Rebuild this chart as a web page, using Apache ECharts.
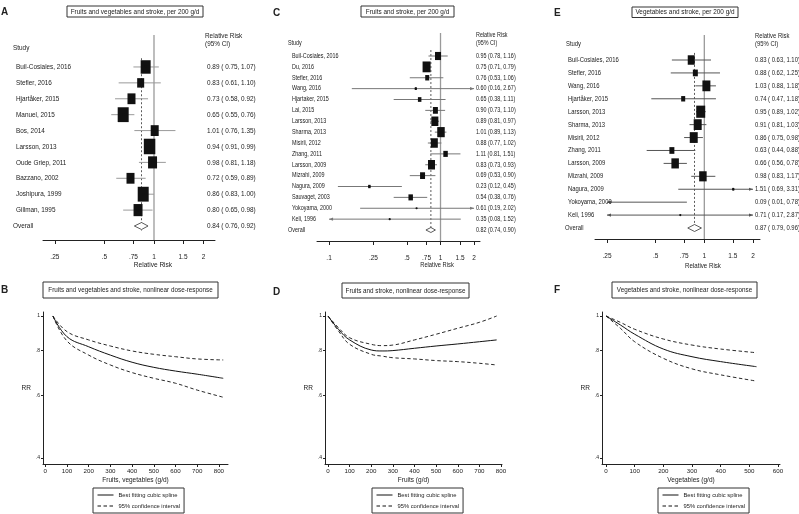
<!DOCTYPE html>
<html><head><meta charset="utf-8">
<script src="https://cdn.jsdelivr.net/npm/echarts@6/dist/echarts.min.js"></script>
<style>html,body{margin:0;padding:0;background:#fff}#c{width:799px;height:514px}</style>
</head><body><div id="c"></div>
<script>
// ---------- Panel A: fruits and vegetables, per 200 g/d ----------
const studiesA = ['Buil-Cosiales, 2016','Stefler, 2016','Hjartåker, 2015','Manuel, 2015','Bos, 2014','Larsson, 2013','Oude Griep, 2011','Bazzano, 2002','Joshipura, 1999','Gillman, 1995'];
const rrA = [0.89,0.83,0.73,0.65,1.01,0.94,0.98,0.72,0.86,0.80];
const loA = [0.75,0.61,0.58,0.55,0.76,0.91,0.81,0.59,0.83,0.65];
const hiA = [1.07,1.10,0.92,0.76,1.35,0.99,1.18,0.89,1.00,0.98];
const weightA = [11.4,5.6,7.3,13.8,7.3,15.1,9.2,7.3,13.8,9.2];
const overallA = [0.84,0.76,0.92];
const ticksA = [0.25,0.5,0.75,1,1.5,2];
const tickLabelsA = ['.25','.5','.75','1','1.5','2'];

// ---------- Panel C: fruits, per 200 g/d ----------
const studiesC = ['Buil-Cosiales, 2016','Du, 2016','Stefler, 2016','Wang, 2016','Hjartaker, 2015','Lai, 2015','Larsson, 2013','Sharma, 2013','Misirli, 2012','Zhang, 2011','Larsson, 2009','Mizrahi, 2009','Nagura, 2009','Sauvaget, 2003','Yokoyama, 2000','Keli, 1996'];
const rrC = [0.95,0.75,0.76,0.60,0.65,0.90,0.89,1.01,0.88,1.11,0.83,0.69,0.23,0.54,0.61,0.35];
const loC = [0.78,0.71,0.53,0.16,0.38,0.73,0.81,0.89,0.77,0.81,0.73,0.53,0.12,0.38,0.19,0.08];
const hiC = [1.16,0.79,1.06,2.67,1.11,1.10,0.97,1.13,1.02,1.51,0.93,0.90,0.45,0.76,2.02,1.52];
const weightC = [8.3,14.7,3.7,0.9,2.8,5.7,11.3,12.9,11.3,4.6,11.3,5.7,1.4,4.6,0.5,0.5];
const overallC = [0.82,0.74,0.90];
const ticksC = [0.1,0.25,0.5,0.75,1,1.5,2];
const tickLabelsC = ['.1','.25','.5','.75','1','1.5','2'];

// ---------- Panel E: vegetables, per 200 g/d ----------
const studiesE = ['Buil-Cosiales, 2016','Stefler, 2016','Wang, 2016','Hjartåker, 2015','Larsson, 2013','Sharma, 2013','Misirli, 2012','Zhang, 2011','Larsson, 2009','Mizrahi, 2009','Nagura, 2009','Yokoyama, 2000','Keli, 1996'];
const rrE = [0.83,0.88,1.03,0.74,0.95,0.91,0.86,0.63,0.66,0.98,1.51,0.09,0.71];
const loE = [0.63,0.62,0.88,0.47,0.89,0.81,0.75,0.44,0.56,0.83,0.69,0.01,0.17];
const hiE = [1.10,1.25,1.18,1.18,1.02,1.03,0.98,0.88,0.78,1.17,3.31,0.78,2.87];
const weightE = [9.7,4.9,12.6,3.2,16,12.6,12.6,4.9,11.1,11.1,0.8,0,0.4];
const overallE = [0.87,0.79,0.96];
const ticksE = [0.25,0.5,0.75,1,1.5,2];
const tickLabelsE = ['.25','.5','.75','1','1.5','2'];

// ---------- Dose-response panels ----------
const doseB = [35,100,200,300,400,500,600,700,820];
const splineB = [1,0.875,0.82,0.777,0.742,0.718,0.701,0.687,0.669];
const upperB = [1,0.904,0.857,0.824,0.798,0.781,0.769,0.758,0.753];
const lowerB = [1,0.851,0.777,0.729,0.694,0.669,0.648,0.62,0.592];

const doseD = [0,50,100,200,250,300,400,500,600,700,780];
const splineD = [1,0.915,0.857,0.803,0.798,0.8,0.812,0.824,0.835,0.847,0.857];
const upperD = [1,0.925,0.869,0.833,0.826,0.829,0.857,0.889,0.924,0.96,1.0];
const lowerD = [1,0.905,0.833,0.781,0.772,0.764,0.758,0.75,0.745,0.737,0.729];

const doseF = [0,50,100,200,300,400,525];
const splineF = [1,0.944,0.889,0.808,0.769,0.745,0.721];
const upperF = [1,0.96,0.918,0.862,0.829,0.808,0.789];
const lowerF = [1,0.924,0.847,0.761,0.711,0.684,0.657];

const rrTicks = [0.4,0.6,0.8,1];
const rrTickLabels = ['.4','.6','.8','1'];
const doseTicksB = [0,100,200,300,400,500,600,700,800];
const doseTicksD = [0,100,200,300,400,500,600,700,800];
const doseTicksF = [0,100,200,300,400,500,600];

// ---------- helpers ----------
const FF = "'Liberation Sans',Arial,sans-serif";
const SX = 0.82; // narrow face emulation
const L = Math.log;
function nearestLabel(v, ticks, labels){
  let bi = 0, bd = 1e9;
  ticks.forEach((t,i)=>{ const d = Math.abs(L(t)-v); if (d < bd){ bd = d; bi = i; } });
  return labels[bi];
}
function txt(text, x, y, size, align, weight, family, sx){
  return {type:'text', x, y, scaleX:(sx===undefined?SX:sx), z:11, style:{text, x:0, y:0, fontSize:size, fontWeight:weight||'normal',
    fontFamily:family||FF, fill:'#222', align:align||'left', textAlign:align||'left', verticalAlign:'middle', textVerticalAlign:'middle'}};
}
function arrowHead(p, dir, color){
  return {type:'polygon', shape:{points:[[p[0],p[1]],[p[0]-dir*4,p[1]-1.6],[p[0]-dir*4,p[1]+1.6]]}, style:{fill:color}};
}

const forest = [
  {studies:studiesA, rr:rrA, lo:loA, hi:hiA, w:weightA, ov:overallA, ticks:ticksA, labels:tickLabelsA,
   grid:{left:43, top:35, width:172, height:205}, xmin:-1.552, xmax:0.853, ymin:-2.01, ymax:10.88,
   clipLo:-1.552, clipHi:0.853, labelX:16, ovX:13, ciX:207, font:7.8, k:2.96, dH:7, sp:' ', ciColor:'#9a9a9a'},
  {studies:studiesC, rr:rrC, lo:loC, hi:hiC, w:weightC, ov:overallC, ticks:ticksC, labels:tickLabelsC,
   grid:{left:317, top:33, width:163, height:208}, xmin:-2.552, xmax:0.816, ymin:-2.115, ymax:17.01,
   clipLo:L(0.1), clipHi:L(2.0), labelX:292, ovX:288, ciX:476, font:6.6, k:2.09, dH:5, sp:'', ciColor:'#777'},
  {studies:studiesE, rr:rrE, lo:loE, hi:hiE, w:weightE, ov:overallE, ticks:ticksE, labels:tickLabelsE,
   grid:{left:595, top:35, width:165, height:204}, xmin:-1.557, xmax:0.793, ymin:-1.935, ymax:13.85,
   clipLo:L(0.25), clipHi:L(2.0), labelX:568, ovX:565, ciX:755, font:7.2, k:2.25, dH:7, sp:' ', ciColor:'#555'}
];

const dose = [
  {dose:doseB, s:splineB, u:upperB, l:lowerB, ticks:doseTicksB, grid:{left:43, top:312, width:185, height:152},
   xmin:-10.6, xmax:842, name:'Fruits, vegetables (g/d)'},
  {dose:doseD, s:splineD, u:upperD, l:lowerD, ticks:doseTicksD, grid:{left:325, top:312, width:177, height:152},
   xmin:-13.9, xmax:804.6, name:'Fruits (g/d)'},
  {dose:doseF, s:splineF, u:upperF, l:lowerF, ticks:doseTicksF, grid:{left:602, top:312, width:178, height:152},
   xmin:-14, xmax:607, name:'Vegetables (g/d)'}
];

const grids = [], xAxes = [], yAxes = [], series = [];
const axisCol = '#222';

forest.forEach((p, gi) => {
  grids.push(p.grid);
  const tv = p.ticks.map(L);
  xAxes.push({gridIndex:gi, type:'value', min:p.xmin, max:p.xmax,
    axisLine:{show:true, onZero:false, lineStyle:{color:axisCol, width:1}},
    axisTick:{show:true, length:4, customValues:tv, lineStyle:{color:axisCol}},
    axisLabel:{customValues:tv, formatter:v=>nearestLabel(v,p.ticks,p.labels), fontSize:6.5, fontFamily:FF, color:'#222', margin:14},
    splitLine:{show:false}});
  yAxes.push({gridIndex:gi, type:'value', inverse:true, min:p.ymin, max:p.ymax, show:false});
  const n = p.rr.length;
  // reference lines + overall diamond
  series.push({type:'custom', xAxisIndex:gi, yAxisIndex:gi, silent:true, clip:false, z:1,
    data:[[L(p.ov[0]), n, L(p.ov[1]), L(p.ov[2])]],
    renderItem(params, api){
      const row = api.value(1);
      const t = api.coord([0, p.ymin]), b = api.coord([0, p.ymax]);
      const d1 = api.coord([api.value(0), -0.55]), d2 = api.coord([api.value(0), row + 0.3]);
      const c = api.coord([api.value(0), row]);
      const l = api.coord([api.value(2), row]), h = api.coord([api.value(3), row]);
      const hh = p.dH/2;
      return {type:'group', children:[
        {type:'line', shape:{x1:t[0], y1:t[1], x2:b[0], y2:b[1]}, style:{stroke:'#9a9a9a', lineWidth:1.3}},
        {type:'line', shape:{x1:d1[0], y1:d1[1], x2:d2[0], y2:d2[1]}, style:{stroke:'#333', lineWidth:0.8, lineDash:[2,2]}},
        {type:'polygon', shape:{points:[[l[0],c[1]],[c[0],c[1]-hh],[h[0],c[1]],[c[0],c[1]+hh]]}, style:{fill:'#fff', stroke:'#333', lineWidth:0.8}},
        txt('Overall', p.ovX, c[1], p.font),
        txt(p.ov[0].toFixed(2)+' ('+p.sp+p.ov[1].toFixed(2)+', '+p.ov[2].toFixed(2)+')', p.ciX, c[1], p.font)
      ]};
    }});
  // studies
  series.push({type:'custom', xAxisIndex:gi, yAxisIndex:gi, silent:true, clip:false, z:2,
    data:p.rr.map((v,i)=>[L(v), i, L(p.lo[i]), L(p.hi[i]), p.w[i]]),
    renderItem(params, api){
      const i = params.dataIndex, row = api.value(1);
      const lo = api.value(2), hi = api.value(3), v = api.value(0);
      const xl = Math.max(lo, p.clipLo), xh = Math.min(hi, p.clipHi);
      const p1 = api.coord([xl,row]), p2 = api.coord([xh,row]);
      const ch = [{type:'line', shape:{x1:p1[0], y1:p1[1], x2:p2[0], y2:p2[1]}, style:{stroke:p.ciColor, lineWidth:1}}];
      if (lo < p.clipLo - 1e-9) ch.push(arrowHead(p1, -1, p.ciColor));
      if (hi > p.clipHi + 1e-9) ch.push(arrowHead(p2, 1, p.ciColor));
      if (v >= p.clipLo && v <= p.clipHi){
        const c = api.coord([v,row]);
        const s = p.k*Math.sqrt(api.value(4));
        if (s > 1.5) ch.push({type:'rect', shape:{x:c[0]-s/2, y:c[1]-s*1.35/2, width:s, height:s*1.35}, style:{fill:'#111'}});
        ch.push({type:'circle', shape:{cx:c[0], cy:c[1], r:1.1}, style:{fill:'#111'}});
      }
      const yy = api.coord([0,row])[1];
      ch.push(txt(p.studies[i], p.labelX, yy, p.font));
      ch.push(txt(p.rr[i].toFixed(2)+' ('+p.sp+p.lo[i].toFixed(2)+', '+p.hi[i].toFixed(2)+')', p.ciX, yy, p.font));
      return {type:'group', children:ch};
    }});
});

dose.forEach((p, k) => {
  const gi = 3 + k;
  grids.push(p.grid);
  xAxes.push({gridIndex:gi, type:'value', min:p.xmin, max:p.xmax,
    axisLine:{show:true, onZero:false, lineStyle:{color:axisCol, width:1}},
    axisTick:{show:true, length:3, customValues:p.ticks, lineStyle:{color:axisCol}},
    axisLabel:{customValues:p.ticks, fontSize:6.2, fontFamily:FF, color:'#222', margin:4},
    splitLine:{show:false},
    name:p.name, nameLocation:'middle', nameGap:13, nameTextStyle:{fontSize:6.5, fontFamily:FF, color:'#222'}});
  const rv = rrTicks.map(L);
  yAxes.push({gridIndex:gi, type:'value', min:-0.955, max:0.0258,
    axisLine:{show:true, onZero:false, lineStyle:{color:axisCol, width:1}},
    axisTick:{show:true, length:2, customValues:rv, lineStyle:{color:axisCol}},
    axisLabel:{customValues:rv, formatter:v=>nearestLabel(v, rrTicks, rrTickLabels), fontSize:5, fontFamily:FF, color:'#222', margin:3},
    splitLine:{show:false},
    name:'RR', nameLocation:'middle', nameRotate:0, nameGap:11, nameTextStyle:{fontSize:6.5, fontFamily:FF, color:'#222'}});
  const mk = (arr) => p.dose.map((d,i)=>[d, L(arr[i])]);
  series.push({type:'line', name:'Best fitting cubic spline', xAxisIndex:gi, yAxisIndex:gi, data:mk(p.s), smooth:0.4,
    symbol:'none', silent:true, lineStyle:{color:'#111', width:1}, itemStyle:{color:'#111'}});
  series.push({type:'line', name:'95% confidence interval', xAxisIndex:gi, yAxisIndex:gi, data:mk(p.u), smooth:0.4,
    symbol:'none', silent:true, lineStyle:{color:'#111', width:0.9, type:[3.5,2.5]}, itemStyle:{color:'#111'}});
  series.push({type:'line', name:'95% confidence interval', xAxisIndex:gi, yAxisIndex:gi, data:mk(p.l), smooth:0.4,
    symbol:'none', silent:true, lineStyle:{color:'#111', width:0.9, type:[3.5,2.5]}, itemStyle:{color:'#111'}});
});

const legendBase = {orient:'vertical', itemWidth:16, itemHeight:6, itemGap:5, padding:[4,4,4,4],
  borderColor:'#333', borderWidth:1, selectedMode:false,
  itemStyle:{color:'rgba(0,0,0,0)', borderWidth:0},
  lineStyle:{width:1},
  textStyle:{fontSize:5.8, fontFamily:FF, color:'#222'},
  data:['Best fitting cubic spline','95% confidence interval']};
const legends = [
  Object.assign({left:93, top:488}, legendBase),
  Object.assign({left:372, top:488}, legendBase),
  Object.assign({left:658, top:488}, legendBase)
];

function box(x, y, w, h, text, size){
  return [
    {type:'rect', shape:{x, y, width:w, height:h}, style:{fill:'#fff', stroke:'#333', lineWidth:1}, z:10},
    txt(text, x+w/2, y+h/2, size, 'center')
  ];
}
const letterFont = "'Liberation Sans',Arial,sans-serif";
const graphic = [].concat(
  box(67, 6, 136, 11, 'Fruits and vegetables and stroke, per 200 g/d', 7.8),
  box(361, 6, 93, 11, 'Fruits and stroke, per 200 g/d', 7.8),
  box(632, 7, 106, 10.5, 'Vegetables and stroke, per 200 g/d', 7.8),
  box(43, 282, 175, 16, 'Fruits and vegetables and stroke, nonlinear dose-response', 7.7),
  box(342, 283, 127, 15, 'Fruits and stroke, nonlinear dose-response', 7.7),
  box(612, 282, 145, 16, 'Vegetables and stroke, nonlinear dose-response', 7.7),
  [
    txt('A', 1, 12, 10, 'left', 'bold', letterFont, 1),
    txt('C', 273, 13, 10, 'left', 'bold', letterFont, 1),
    txt('E', 554, 13, 10, 'left', 'bold', letterFont, 1),
    txt('B', 1, 290, 10, 'left', 'bold', letterFont, 1),
    txt('D', 273, 292, 10, 'left', 'bold', letterFont, 1),
    txt('F', 554, 290, 10, 'left', 'bold', letterFont, 1),
    txt('Study', 13, 48, 7.8), txt('Relative Risk', 205, 36, 7.8), txt('(95% CI)', 205, 44, 7.8),
    txt('Study', 288, 43, 6.6), txt('Relative Risk', 476, 35, 6.6), txt('(95% CI)', 476, 43, 6.6),
    txt('Study', 566, 44, 7.2), txt('Relative Risk', 755, 36, 7.2), txt('(95% CI)', 755, 44, 7.2),
    txt('Relative Risk', 153, 265, 8, 'center'),
    txt('Relative Risk', 437, 265, 7, 'center'),
    txt('Relative Risk', 703, 266, 7.5, 'center')
  ]
);

const chart = echarts.init(document.getElementById('c'), null, {renderer:'canvas'});
chart.setOption({
  animation:false, backgroundColor:'#fff',
  grid:grids, xAxis:xAxes, yAxis:yAxes, series, legend:legends, graphic
});
</script></body></html>
